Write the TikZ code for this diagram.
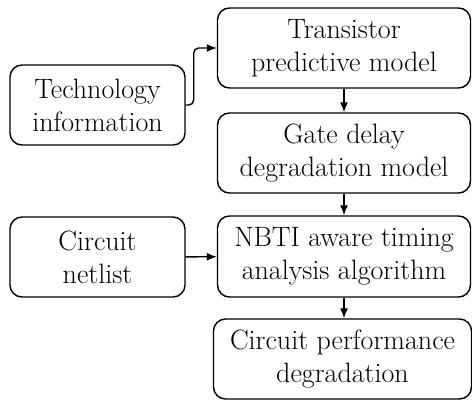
\documentclass[tikz,border=0pt]{standalone}
\usetikzlibrary{arrows.meta}
\begin{document}
\begin{tikzpicture}[x=1pt,y=-1pt,
  box/.style={draw, line width=1.4pt, rounded corners=12pt, align=center,
    font=\fontsize{28}{33}\selectfont, inner sep=0pt, minimum height=80pt},
  wide/.style={box, minimum width=253pt},
  narrow/.style={box, minimum width=175pt},
  conn/.style={line width=1.4pt, -{Latex[length=10pt,width=8pt]}}]
\useasboundingbox (0,0) rectangle (472,400);
\node[wide] (trans) at (344,48) {Transistor\\predictive model};
\node[wide] (gate) at (344,153) {Gate delay\\degradation model};
\node[narrow] (tech) at (97.5,105) {Technology\\information};
\node[narrow] (net) at (97.5,257) {Circuit\\netlist};
\node[wide, minimum height=81pt] (nbti) at (344,256.5) {NBTI aware timing\\analysis algorithm};
\node[box, minimum width=258pt] (perf) at (342.5,359) {Circuit performance\\degradation};
\draw[conn] (trans) -- (gate);
\draw[conn] (gate) -- (nbti);
\draw[conn] (nbti.south) -- (nbti.south |- perf.north);
\draw[conn] (net) -- (nbti);
\draw[conn, rounded corners=5pt] (tech.east) -- ++(8,0) |- (trans.west);
\end{tikzpicture}
\end{document}
